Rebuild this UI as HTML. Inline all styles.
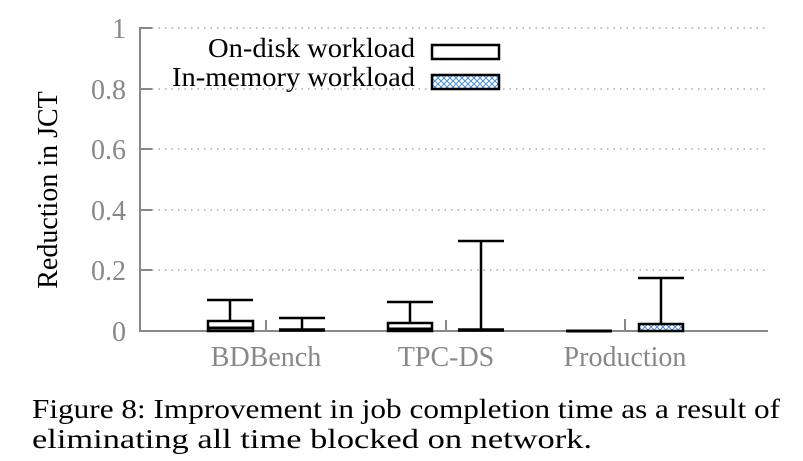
<!DOCTYPE html>
<html><head><style>body{margin:0;background:#fff}svg{display:block}</style></head><body>
<svg width="803" height="461" viewBox="0 0 803 461" xmlns="http://www.w3.org/2000/svg" style="font-family:'Liberation Serif',serif">
<defs><pattern id="h" width="6" height="6" patternUnits="userSpaceOnUse"><rect width="6" height="6" fill="#fff"/><path d="M0 0L6 6M6 0L0 6" stroke="#4a90d9" stroke-width="1"/></pattern></defs>
<g stroke="#999" stroke-width="1.2" stroke-dasharray="1.5 5">
<line x1="152" y1="28" x2="768" y2="28"/><line x1="152" y1="89" x2="768" y2="89"/><line x1="152" y1="149" x2="768" y2="149"/><line x1="152" y1="210" x2="768" y2="210"/><line x1="152" y1="270" x2="768" y2="270"/></g>
<g stroke="#888" stroke-width="2" fill="none">
<line x1="140" y1="27" x2="140" y2="332"/><line x1="139" y1="331" x2="768" y2="331"/>
<line x1="140" y1="28" x2="152" y2="28"/><line x1="140" y1="89" x2="152" y2="89"/><line x1="140" y1="149" x2="152" y2="149"/><line x1="140" y1="210" x2="152" y2="210"/><line x1="140" y1="270" x2="152" y2="270"/>
<line x1="266" y1="320" x2="266" y2="331"/><line x1="446" y1="320" x2="446" y2="331"/><line x1="625" y1="319" x2="625" y2="331"/></g>
<g fill="#888" font-size="28" text-anchor="end"><text x="126" y="38">1</text><text x="126" y="99">0.8</text><text x="126" y="159">0.6</text><text x="126" y="220">0.4</text><text x="126" y="280">0.2</text><text x="126" y="341">0</text></g>
<text transform="translate(57,190) rotate(-90)" text-anchor="middle" font-size="28">Reduction in JCT</text>
<g fill="#888" font-size="28" text-anchor="middle"><text x="266" y="366">BDBench</text><text x="446" y="366">TPC-DS</text><text x="625" y="366">Production</text></g>
<g font-size="27" text-anchor="end"><text x="415" y="57" textLength="207" lengthAdjust="spacingAndGlyphs">On-disk workload</text><text x="415" y="86" textLength="243" lengthAdjust="spacingAndGlyphs">In-memory workload</text></g>
<g stroke="#000" stroke-width="2.5" fill="#fff">
<rect x="432" y="45" width="67" height="14"/><rect x="432" y="75" width="67" height="14" fill="url(#h)"/>
<line x1="230" y1="300" x2="230" y2="320"/><line x1="207" y1="300" x2="253" y2="300"/><rect x="208" y="321" width="45" height="10"/><line x1="208" y1="328" x2="253" y2="328" stroke-width="3"/>
<line x1="302" y1="318" x2="302" y2="329"/><line x1="279" y1="318" x2="325" y2="318"/><line x1="279" y1="330" x2="325" y2="330" stroke-width="3.5"/>
<line x1="410" y1="302" x2="410" y2="322"/><line x1="387" y1="302" x2="433" y2="302"/><rect x="388" y="323" width="44" height="8"/><line x1="388" y1="329" x2="432" y2="329" stroke-width="3"/>
<line x1="481" y1="241" x2="481" y2="329"/><line x1="458" y1="241" x2="504" y2="241"/><line x1="458" y1="330" x2="504" y2="330" stroke-width="3.5"/>
<line x1="566" y1="331" x2="612" y2="331" stroke-width="3"/>
<line x1="661" y1="278" x2="661" y2="324"/><line x1="638" y1="278" x2="684" y2="278"/><rect x="639" y="324" width="44" height="7" fill="url(#h)"/>
</g>
<g font-size="27"><text x="32" y="418" textLength="748" lengthAdjust="spacingAndGlyphs">Figure 8: Improvement in job completion time as a result of</text><text x="32" y="448" textLength="560" lengthAdjust="spacingAndGlyphs">eliminating all time blocked on network.</text></g>
</svg>
</body></html>
